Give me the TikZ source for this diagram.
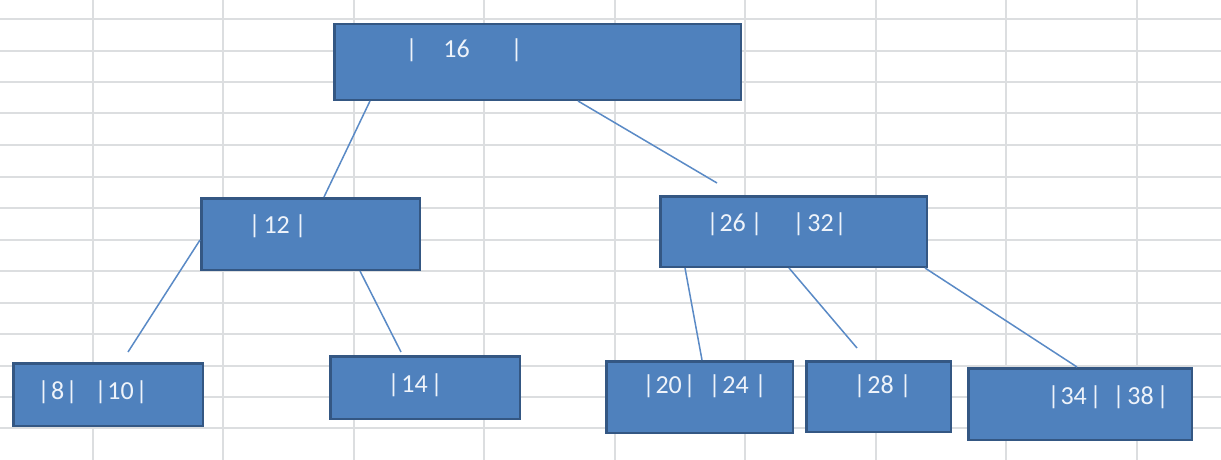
\documentclass[tikz,border=0pt]{standalone}
\usepackage{fontspec}
\setmainfont{Carlito}
\usetikzlibrary{calc}
\definecolor{gridc}{HTML}{DCDEE0}
\definecolor{boxfill}{HTML}{4F81BD}
\definecolor{boxline}{HTML}{345783}
\definecolor{linkc}{HTML}{5A8AC6}
\definecolor{txtc}{HTML}{EEF3FA}
\newcommand\tokat[2]{\makebox[0pt][l]{\hspace{#1pt}\makebox[0pt]{#2}}}
\tikzset{
  treebox/.style={draw=boxline, fill=boxfill, line width=2.5pt, inner sep=0pt, rectangle},
  boxtext/.style={text=txtc, inner sep=0pt, anchor=base west, font=\fontsize{26}{30}\selectfont},
  link/.style={draw=linkc, line width=1.5pt},
  gridline/.style={draw=gridc, line width=2pt}
}
\newcommand\treenode[5]{% name, x1,y1,x2,y2
  \node[treebox, minimum width={(#4-#2)*1pt-2.5pt}, minimum height={(#5-#3)*1pt-2.5pt}] (#1) at ({(#2+#4)/2},{(#3+#5)/2}) {};
}
\begin{document}
\begin{tikzpicture}[x=1pt,y=-1pt]
\useasboundingbox (0,0) rectangle (1221,460);
\fill[white] (0,0) rectangle (1221,460);
% spreadsheet grid
\foreach \gx in {93,223,354,484,615,745,876,1006,1137}
  \draw[gridline] (\gx,0) -- (\gx,460);
\foreach \gy in {19,51,82,113,145,177,208,240,271,303,334,366,397,428}
  \draw[gridline] (0,\gy) -- (1221,\gy);
% free ends of connectors
\coordinate (c26) at (717,183);
\coordinate (c8) at (128,352);
\coordinate (c14) at (401,352);
\coordinate (c28) at (857,348);
% boxes
\treenode{root}{333}{23}{742}{101}
\treenode{n12}{200}{197}{421}{271}
\treenode{n26}{659}{195}{928}{268}
\treenode{n8}{12}{362}{204}{427}
\treenode{n14}{329}{355}{521}{420}
\treenode{n20}{605}{360}{794}{434}
\treenode{n28}{805}{360}{952}{433}
\treenode{n34}{967}{367}{1193}{441}
% links
\draw[link] ([xshift=37pt]root.south west) -- ([xshift=124pt]n12.north west);
\draw[link] ([xshift=245pt]root.south west) -- (c26);
\draw[link] ([yshift=-43pt]n12.north west) -- (c8);
\draw[link] ([xshift=160pt]n12.south west) -- (c14);
\draw[link] ([xshift=26pt]n26.south west) -- ([xshift=97pt]n20.north west);
\draw[link] ([xshift=130pt]n26.south west) -- (c28);
\draw[link] ([xshift=266pt]n26.south west) -- ([xshift=110pt]n34.north west);
% labels
\node[boxtext] (t16) at (0,58) {\tokat{411}{|}\tokat{456}{16}\tokat{516}{|}};
\node[boxtext] (t12) at (0,233) {\tokat{254}{|}\tokat{276}{12}\tokat{300}{|}};
\node[boxtext] (t26) at (0,231) {\tokat{712}{|}\tokat{732}{26}\tokat{756}{|}\tokat{798}{|}\tokat{820}{32}\tokat{840}{|}};
\node[boxtext] (t8) at (0,399) {\tokat{43}{|}\tokat{57}{8}\tokat{71}{|}\tokat{100}{|}\tokat{120}{10}\tokat{141}{|}};
\node[boxtext] (t14) at (0,392) {\tokat{393}{|}\tokat{414}{14}\tokat{436}{|}};
\node[boxtext] (t20) at (0,393) {\tokat{648}{|}\tokat{668}{20}\tokat{689}{|}\tokat{714}{|}\tokat{735}{24}\tokat{760}{|}};
\node[boxtext] (t28) at (0,393) {\tokat{859}{|}\tokat{880}{28}\tokat{905}{|}};
\node[boxtext] (t34) at (0,404) {\tokat{1053}{|}\tokat{1073}{34}\tokat{1095}{|}\tokat{1118}{|}\tokat{1140}{38}\tokat{1162}{|}};
\end{tikzpicture}
\end{document}
